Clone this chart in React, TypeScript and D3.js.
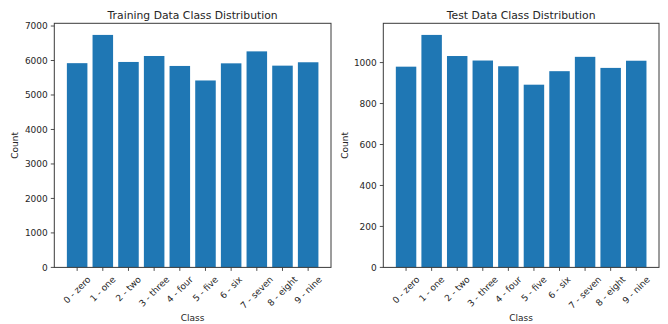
import React from "react";
import * as d3 from "d3";

const classes = ["0 - zero", "1 - one", "2 - two", "3 - three", "4 - four", "5 - five", "6 - six", "7 - seven", "8 - eight", "9 - nine"];
const trainCounts = [5923, 6742, 5958, 6131, 5842, 5421, 5918, 6265, 5851, 5949];
const testCounts = [980, 1135, 1032, 1010, 982, 892, 958, 1028, 974, 1009];
const trainTicks = [0, 1000, 2000, 3000, 4000, 5000, 6000, 7000];
const testTicks = [0, 200, 400, 600, 800, 1000];
const trainTitle = "Training Data Class Distribution";
const testTitle = "Test Data Class Distribution";
const xLabel = "Class";
const yLabel = "Count";

const FONT = "'DejaVu Sans', 'Liberation Sans', sans-serif";
const TICK_FS = 9;
const TITLE_FS = 10.8;
const BAR = "#1f77b4";
const INK = "#262626";
const SPINE = "#3a3a3a";

let ctx: CanvasRenderingContext2D | null = null;
function measure(t: string, fs: number): number {
  if (!ctx) {
    const c = document.createElement("canvas");
    ctx = c.getContext("2d");
  }
  if (!ctx) return t.length * fs * 0.55;
  ctx.font = `${fs}px 'DejaVu Sans'`;
  return ctx.measureText(t).width;
}

type PanelProps = {
  left: number;
  right: number;
  values: number[];
  ticks: number[];
  title: string;
  yLabelX: number;
};

const TOP = 23.3;
const BOTTOM = 267.4;

function Panel({ left, right, values, ticks, title, yLabelX }: PanelProps) {
  const n = classes.length;
  const x = d3.scaleLinear().domain([-0.89, n - 1 + 0.89]).range([left, right]);
  const ymax = (d3.max(values) as number) * 1.05;
  const y = d3.scaleLinear().domain([0, ymax]).range([BOTTOM, TOP]);
  const bw = x(0.8) - x(0);
  const labelTop = BOTTOM + 6.8;
  const h = TICK_FS * 1.164;
  return (
    <g>
      {values.map((v, i) => (
        <rect key={i} x={x(i) - bw / 2} y={y(v)} width={bw} height={BOTTOM - y(v)} fill={BAR} />
      ))}
      <rect x={left} y={TOP} width={right - left} height={BOTTOM - TOP} fill="none" stroke={SPINE} strokeWidth={1} />
      {ticks.map((t) => (
        <g key={t}>
          <line x1={left - 3.5} x2={left} y1={y(t)} y2={y(t)} stroke={SPINE} strokeWidth={0.9} />
          <text x={left - 6.5} y={y(t)} dy="0.35em" textAnchor="end" fontSize={TICK_FS} fontFamily={FONT} fill={INK}>
            {t}
          </text>
        </g>
      ))}
      {classes.map((c, i) => {
        const w = measure(c, TICK_FS);
        const s = (w + h) / Math.SQRT2;
        const cx = x(i);
        const cy = labelTop + s / 2;
        return (
          <g key={c}>
            <line x1={cx} x2={cx} y1={BOTTOM} y2={BOTTOM + 3.5} stroke={SPINE} strokeWidth={0.9} />
            <text
              transform={`translate(${cx},${cy}) rotate(-45)`}
              textAnchor="middle"
              dy="0.33em"
              fontSize={TICK_FS}
              fontFamily={FONT}
              fill={INK}
            >
              {c}
            </text>
          </g>
        );
      })}
      <text x={(left + right) / 2} y={18.5} textAnchor="middle" fontSize={TITLE_FS} fontFamily={FONT} fill={INK}>
        {title}
      </text>
      <text x={(left + right) / 2} y={321} textAnchor="middle" fontSize={TICK_FS} fontFamily={FONT} fill={INK}>
        {xLabel}
      </text>
      <text
        transform={`translate(${yLabelX},${(TOP + BOTTOM) / 2}) rotate(-90)`}
        dy="0.35em"
        textAnchor="middle"
        fontSize={TICK_FS}
        fontFamily={FONT}
        fill={INK}
      >
        {yLabel}
      </text>
    </g>
  );
}

export default function App() {
  return (
    <svg
      width={668}
      height={324}
      viewBox="0 0 668 324"
      style={{ position: "fixed", left: 0, top: 0, background: "#fff" }}
    >
      <rect x={0} y={0} width={668} height={324} fill="#fff" />
      <Panel left={54.3} right={331} values={trainCounts} ticks={trainTicks} title={trainTitle} yLabelX={15} />
      <Panel left={383.3} right={659} values={testCounts} ticks={testTicks} title={testTitle} yLabelX={345} />
    </svg>
  );
}
